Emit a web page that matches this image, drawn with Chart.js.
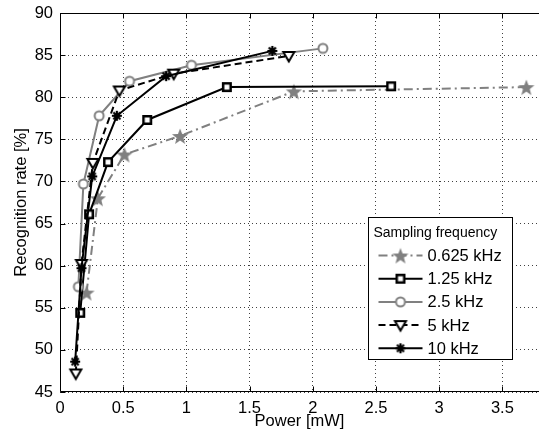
<!DOCTYPE html>
<html>
<head>
<meta charset="utf-8">
<script src="https://cdn.jsdelivr.net/npm/chart.js@4.4.0/dist/chart.umd.min.js"></script>
<style>
  html, body { margin: 0; padding: 0; background: #fff; }
  #wrap { width: 539px; height: 438px; }
</style>
</head>
<body>
<div id="wrap"><canvas id="myChart" width="539" height="438"></canvas></div>
<script>
// values: power in mW, recognition rate in %
var labels = ['0.625 kHz', '1.25 kHz', '2.5 kHz', '5 kHz', '10 kHz'];
var xTicks = [0, 0.5, 1, 1.5, 2, 2.5, 3, 3.5];

var power625 = [0.21, 0.30, 0.51, 0.95, 1.85, 3.69];
var rate625  = [56.8, 68.0, 73.2, 75.4, 80.7, 81.2];

var power125 = [0.16, 0.23, 0.38, 0.69, 1.32, 2.62];
var rate125  = [54.4, 66.1, 72.3, 77.3, 81.2, 81.3];

var power25 = [0.145, 0.185, 0.31, 0.55, 1.04, 2.08];
var rate25  = [57.5, 69.7, 77.8, 81.9, 83.8, 85.8];

var power5 = [0.125, 0.17, 0.26, 0.47, 0.90, 1.81];
var rate5  = [47.2, 60.2, 72.2, 80.8, 82.8, 84.9];

var power10 = [0.12, 0.17, 0.255, 0.45, 0.84, 1.68];
var rate10  = [48.6, 59.7, 70.6, 77.8, 82.5, 85.5];

var GRAY = 'rgb(128,128,128)';
var FONT = "'Liberation Sans', Arial, Helvetica, sans-serif";

Chart.defaults.font.family = FONT;
Chart.defaults.color = '#000';

function pts(xs, ys) {
  return xs.map(function (x, i) { return {x: x, y: ys[i]}; });
}

// marker images (matlab style markers)
function makeMarker(kind) {
  var c = document.createElement('canvas');
  c.width = 22; c.height = 22;
  var g = c.getContext('2d');
  var cx = 11, cy = 11;
  if (kind === 'star') {
    g.fillStyle = GRAY;
    g.beginPath();
    for (var i = 0; i < 10; i++) {
      var r = i % 2 ? 3.6 : 8.5;
      var a = -Math.PI / 2 + i * Math.PI / 5;
      g.lineTo(cx + r * Math.cos(a), cy + 1 + r * Math.sin(a));
    }
    g.closePath();
    g.fill();
  } else if (kind === 'square') {
    g.fillStyle = '#fff';
    g.fillRect(cx - 4, cy - 4, 8, 8);
    g.strokeStyle = '#000';
    g.lineWidth = 2.5;
    g.strokeRect(cx - 3.75, cy - 3.75, 7.5, 7.5);
  } else if (kind === 'circle') {
    g.fillStyle = '#fff';
    g.strokeStyle = GRAY;
    g.lineWidth = 2;
    g.beginPath();
    g.arc(cx, cy, 4.5, 0, Math.PI * 2);
    g.fill();
    g.stroke();
  } else if (kind === 'tri') {
    g.fillStyle = '#fff';
    g.strokeStyle = '#000';
    g.lineWidth = 2;
    g.lineJoin = 'miter';
    g.beginPath();
    g.moveTo(cx - 5.5, cy - 4);
    g.lineTo(cx + 5.5, cy - 4);
    g.lineTo(cx, cy + 5.5);
    g.closePath();
    g.fill();
    g.stroke();
  } else if (kind === 'asterisk') {
    g.strokeStyle = '#000';
    g.lineWidth = 2.2;
    g.beginPath();
    for (var k = 0; k < 4; k++) {
      var ang = k * Math.PI / 4;
      g.moveTo(cx - 5 * Math.cos(ang), cy - 5 * Math.sin(ang));
      g.lineTo(cx + 5 * Math.cos(ang), cy + 5 * Math.sin(ang));
    }
    g.stroke();
  }
  return c;
}

var markers = {
  star: makeMarker('star'),
  square: makeMarker('square'),
  circle: makeMarker('circle'),
  tri: makeMarker('tri'),
  asterisk: makeMarker('asterisk')
};

function series(label, xs, ys, color, dash, marker, order) {
  return {
    label: label,
    data: pts(xs, ys),
    showLine: true,
    borderColor: color,
    backgroundColor: color,
    borderWidth: 2,
    borderDash: dash,
    pointStyle: markers[marker],
    pointRadius: 6,
    pointHoverRadius: 6,
    order: order
  };
}

var datasets = [
  series(labels[0], power625, rate625, GRAY, [9, 4, 2, 4], 'star', 4),
  series(labels[1], power125, rate125, '#000', [], 'square', 3),
  series(labels[2], power25, rate25, GRAY, [], 'circle', 2),
  series(labels[3], power5, rate5, '#000', [7, 4], 'tri', 1),
  series(labels[4], power10, rate10, '#000', [], 'asterisk', 0)
];

// box, inward ticks and legend drawn the matlab way
var framePlugin = {
  id: 'frame',
  afterDraw: function (chart) {
    var ctx = chart.ctx;
    var a = chart.chartArea;
    var xs = chart.scales.x, ys = chart.scales.y;
    var L = Math.round(a.left) + 0.5, T = Math.round(a.top) + 0.5, B = Math.round(a.bottom) - 0.5;
    ctx.save();
    ctx.strokeStyle = '#000';
    ctx.lineWidth = 1;
    ctx.setLineDash([]);
    ctx.beginPath();
    ctx.moveTo(a.right, T); ctx.lineTo(L, T); ctx.lineTo(L, B); ctx.lineTo(a.right, B);
    xs.ticks.forEach(function (t) {
      var px = Math.round(xs.getPixelForValue(t.value)) + 0.5;
      ctx.moveTo(px, B); ctx.lineTo(px, B - 5);
      ctx.moveTo(px, T); ctx.lineTo(px, T + 5);
    });
    ys.ticks.forEach(function (t) {
      var py = Math.round(ys.getPixelForValue(t.value)) + 0.5;
      ctx.moveTo(L, py); ctx.lineTo(L + 5, py);
    });
    ctx.stroke();

    // legend
    var x0 = Math.round(a.right) - 171 + 0.5, y0 = Math.round(a.bottom) - 175 + 0.5;
    var w = 144, h = 142;
    ctx.fillStyle = '#fff';
    ctx.fillRect(x0, y0, w, h);
    ctx.strokeRect(x0, y0, w, h);
    ctx.fillStyle = '#000';
    ctx.textBaseline = 'middle';
    ctx.textAlign = 'left';
    ctx.font = '14px ' + FONT;
    ctx.fillText('Sampling frequency', x0 + 5, y0 + 16);
    ctx.font = '16.5px ' + FONT;
    chart.data.datasets.forEach(function (ds, i) {
      var yy = y0 + 38 + i * 23.2;
      ctx.strokeStyle = ds.borderColor;
      ctx.lineWidth = ds.borderWidth;
      ctx.setLineDash(ds.borderDash);
      ctx.beginPath();
      ctx.moveTo(x0 + 10, yy);
      ctx.lineTo(x0 + 54, yy);
      ctx.stroke();
      ctx.setLineDash([]);
      var m = ds.pointStyle;
      ctx.drawImage(m, x0 + 32 - m.width / 2, yy - m.height / 2);
      ctx.fillText(ds.label, x0 + 59, yy + 1);
    });
    ctx.restore();
  }
};

var ctx = document.getElementById('myChart').getContext('2d');
var myChart = new Chart(ctx, {
  type: 'scatter',
  data: { datasets: datasets },
  plugins: [framePlugin],
  options: {
    responsive: false,
    animation: false,
    layout: { autoPadding: false, padding: { top: 13, right: 0, left: 0, bottom: 0 } },
    plugins: {
      legend: { display: false },
      tooltip: { enabled: false }
    },
    scales: {
      x: {
        type: 'linear',
        min: 0,
        max: 3.79,
        afterFit: function (s) {
          s.height = 46;
          s.paddingRight = 0;
          s.paddingLeft = 0;
        },
        afterBuildTicks: function (s) {
          s.ticks = xTicks.map(function (v) { return {value: v}; });
        },
        ticks: {
          padding: 7,
          maxRotation: 0,
          font: { size: 16.5 },
          callback: function (v) { return String(v); }
        },
        grid: { color: 'rgba(0,0,0,0.75)', drawTicks: false },
        border: { display: false, dash: [1, 3] },
        title: {
          display: true,
          text: 'Power [mW]',
          font: { size: 16.5 },
          padding: { top: 0, bottom: 7 }
        }
      },
      y: {
        min: 45,
        max: 90,
        afterFit: function (s) {
          s.width = 60;
          s.paddingTop = 0;
          s.paddingBottom = 0;
        },
        ticks: {
          stepSize: 5,
          padding: 7,
          font: { size: 16.5 }
        },
        grid: { color: 'rgba(0,0,0,0.75)', drawTicks: false },
        border: { display: false, dash: [1, 3] },
        title: {
          display: true,
          text: 'Recognition rate [%]',
          font: { size: 16.5 },
          padding: { top: 12, bottom: 0 }
        }
      }
    }
  }
});
</script>
</body>
</html>
